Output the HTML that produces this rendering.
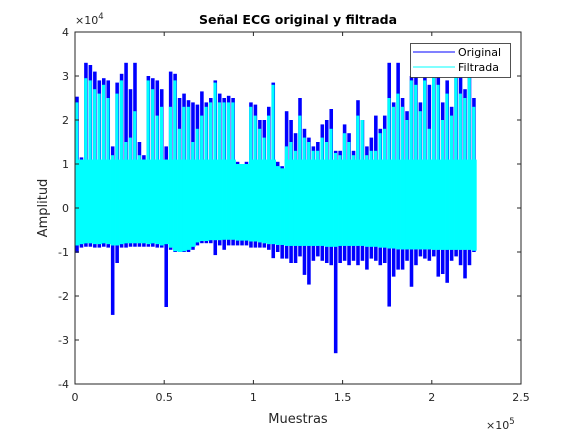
<!DOCTYPE html>
<html><head><meta charset="utf-8"><style>
body{margin:0;background:#fff;}
svg{display:block;font-family:"DejaVu Sans","Liberation Sans",sans-serif;}
</style></head><body>
<svg id="chart" width="577" height="433">
<rect width="577" height="433" fill="#fff"/>
<g id="marks"></g>
<g id="axes"></g>
<text x="298" y="24" text-anchor="middle" font-size="12.5" font-weight="bold" fill="#000">Señal ECG original y filtrada</text>
<text x="298" y="423" text-anchor="middle" font-size="13" fill="#262626">Muestras</text>
<text transform="translate(47,208) rotate(-90)" text-anchor="middle" font-size="13" fill="#262626">Amplitud</text>
<text x="75" y="24" font-size="11" fill="#262626">×10<tspan dy="-5" font-size="8.5">4</tspan></text>
<text x="486" y="429" font-size="11" fill="#262626">×10<tspan dy="-5" font-size="8.5">5</tspan></text>
<g>
<rect x="410.5" y="43.5" width="100" height="34" fill="#fff" stroke="#262626" stroke-width="0.8"/>
<line x1="413" y1="52" x2="455" y2="52" stroke="#0000ff"/>
<text x="458" y="56" font-size="11" fill="#000">Original</text>
<line x1="413" y1="67" x2="455" y2="67" stroke="#00ffff"/>
<text x="458" y="71" font-size="11" fill="#000">Filtrada</text>
</g>
</svg>
<script>
// bins of 2500 samples; values in units of 1e4
const binSize = 2500;
const bodyTop = 1.1;
const origMax = [2.53,1.15,3.3,3.25,3.1,2.9,2.95,2.9,1.4,2.85, 3.05,3.3,2.7,3.3,1.5,1.2,3.0,2.95,2.9,2.7, 1.4,3.1,3.05,2.5,2.6,2.45,2.4,2.35,2.65,2.4, 2.5,2.9,2.6,2.5,2.55,2.5,1.05,1.0,1.05,2.4, 2.35,2.0,2.0,2.3,2.85,1.05,0.95,2.2,2.0,1.7, 2.5,1.8,1.6,1.4,1.5,1.9,2.0,2.25,1.3,1.3, 1.9,1.7,1.3,2.45,2.0,1.4,1.6,2.1,1.8,2.1, 3.3,2.4,3.3,2.5,2.2,3.0,3.1,2.4,3.0,2.8, 3.2,3.1,2.4,2.9,2.3,3.2,3.0,2.7,3.2,2.5];
const filtMax = [2.4,1.1,2.95,2.9,2.7,2.6,2.8,2.5,1.2,2.6, 2.9,1.5,1.6,2.2,1.2,1.1,2.9,2.7,2.1,2.3, 1.1,2.3,2.9,1.8,2.3,2.3,1.5,1.8,2.1,2.3, 2.4,2.85,2.4,2.4,2.4,2.4,1.0,1.0,1.0,2.3, 2.1,1.8,1.6,2.1,2.8,0.95,0.9,1.4,1.5,1.3, 2.1,1.6,1.5,1.3,1.3,1.6,1.5,1.8,1.25,1.2, 1.7,1.5,1.2,2.1,2.0,1.2,1.3,1.3,1.7,1.8, 2.5,2.3,2.6,2.3,2.0,2.9,2.8,2.2,2.9,1.8, 3.0,2.8,2.0,2.6,2.1,3.0,2.6,2.5,3.0,2.3];
const origMin = [-1.02,-0.9,-0.88,-0.88,-0.9,-0.9,-0.88,-0.9,-2.43,-1.25, -0.9,-0.9,-0.88,-0.88,-0.88,-0.88,-0.88,-0.88,-0.9,-0.9, -2.25,-0.95,-1.0,-1.0,-1.0,-1.0,-0.95,-0.85,-0.8,-0.8, -0.8,-1.07,-0.85,-0.95,-0.85,-0.85,-0.85,-0.85,-0.85,-0.9, -0.9,-0.9,-0.9,-0.95,-1.14,-1.0,-1.15,-1.15,-1.25,-1.25, -1.1,-1.52,-1.74,-1.2,-1.1,-1.2,-1.25,-1.3,-3.3,-1.25, -1.2,-1.3,-1.2,-1.3,-1.2,-1.4,-1.15,-1.2,-1.3,-1.25, -2.24,-1.56,-1.4,-1.4,-1.2,-1.79,-1.3,-1.1,-1.15,-1.2, -1.1,-1.56,-1.5,-1.7,-1.2,-1.1,-1.3,-1.6,-1.3,-1.0];
const filtMin = [-0.85,-0.82,-0.8,-0.8,-0.82,-0.82,-0.8,-0.82,-0.85,-0.85, -0.82,-0.8,-0.8,-0.8,-0.8,-0.8,-0.82,-0.8,-0.82,-0.85, -0.82,-0.9,-0.98,-1.0,-0.98,-0.95,-0.88,-0.78,-0.75,-0.75, -0.73,-0.73,-0.73,-0.72,-0.72,-0.72,-0.74,-0.74,-0.74,-0.76, -0.76,-0.78,-0.8,-0.82,-0.82,-0.84,-0.84,-0.86,-0.86,-0.86, -0.86,-0.86,-0.86,-0.86,-0.86,-0.86,-0.88,-0.88,-0.88,-0.86, -0.86,-0.86,-0.86,-0.86,-0.86,-0.88,-0.88,-0.88,-0.9,-0.9, -0.92,-0.92,-0.94,-0.94,-0.94,-0.94,-0.94,-0.94,-0.94,-0.94, -0.95,-0.95,-0.95,-0.95,-0.95,-0.95,-0.95,-0.95,-0.95,-0.97];
const xTicks = [0,0.5,1,1.5,2,2.5];
const xTickLabels = ["0","0.5","1","1.5","2","2.5"];
const yTicks = [-4,-3,-2,-1,0,1,2,3,4];
const yTickLabels = ["-4","-3","-2","-1","0","1","2","3","4"];

const L=75,R=521,T=32,B=384;
const xMax=2.5e5, yMin=-4, yMax=4;
const sx = v => L + v/xMax*(R-L);
const sy = v => T + (yMax-v)/(yMax-yMin)*(B-T);
const NS="http://www.w3.org/2000/svg";
const marks=document.getElementById('marks');
const axes=document.getElementById('axes');
function mk(tag,attrs,parent){const e=document.createElementNS(NS,tag);for(const k in attrs)e.setAttribute(k,attrs[k]);parent.appendChild(e);return e;}

const bw = sx(binSize)-sx(0);
origMax.forEach((v,i)=>{
  const x=sx(i*binSize);
  const r=mk('rect',{x:x+bw*0.05,y:sy(v),width:bw*0.8,height:sy(origMin[i])-sy(v),fill:'#0000ff'},marks);
  
  
});
filtMax.forEach((v,i)=>{
  const x=sx(i*binSize);
  const r=mk('rect',{x:x+bw*0.05,y:sy(v),width:bw*0.7,height:sy(filtMin[i])-sy(v),fill:'#00ffff'},marks);
  
  
});
filtMin.forEach((v,i)=>{
  const x=sx(i*binSize);
  const top=Math.min(bodyTop,filtMax[i]);
  const r=mk('rect',{x:x,y:sy(top),width:bw+0.3,height:sy(v)-sy(top),fill:'#00ffff'},marks);
  
  
});

const box=mk('rect',{x:L,y:T,width:R-L,height:B-T,fill:'none',stroke:'#262626','stroke-width':1},axes);


xTicks.forEach((t,i)=>{
  const x=sx(t*1e5);
  mk('line',{x1:x,y1:B,x2:x,y2:B-4,stroke:'#262626'},axes);
  mk('line',{x1:x,y1:T,x2:x,y2:T+4,stroke:'#262626'},axes);
  const tx=mk('text',{x:x,y:B+17,'text-anchor':'middle','font-size':11,fill:'#262626'},axes);
  tx.textContent=xTickLabels[i];
  
  
});
yTicks.forEach((t,i)=>{
  const y=sy(t);
  mk('line',{x1:L,y1:y,x2:L+4,y2:y,stroke:'#262626'},axes);
  mk('line',{x1:R,y1:y,x2:R-4,y2:y,stroke:'#262626'},axes);
  const tx=mk('text',{x:L-6,y:y+4,'text-anchor':'end','font-size':11,fill:'#262626'},axes);
  tx.textContent=yTickLabels[i];
  
  
});
</script>
</body></html>
